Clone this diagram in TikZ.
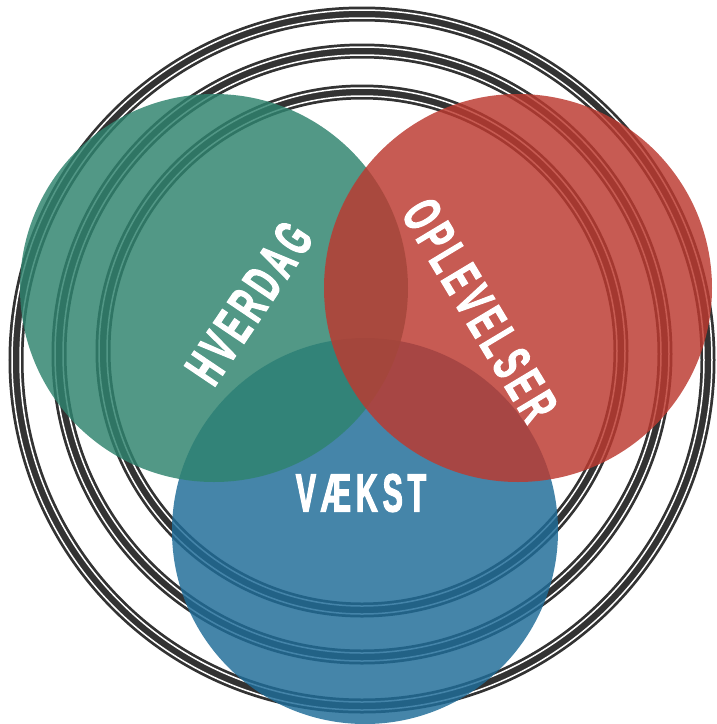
\documentclass[tikz,border=0pt]{standalone}
\usepackage{fontspec}
\newfontfamily\lblfont{Liberation Sans}[FakeStretch=0.56,FakeBold=2,LetterSpace=9]
\definecolor{ringc}{HTML}{333333}
\definecolor{vgreen}{RGB}{47,131,110}
\definecolor{vblue}{RGB}{31,108,152}
\definecolor{vred}{RGB}{188,58,48}
\begin{document}
\begin{tikzpicture}[x=1pt,y=-1pt,
  ringband/.style={draw=ringc,line width=15pt},
  ringgap/.style={draw=white,line width=1.5pt},
  blob/.style={circle,inner sep=0pt,minimum size=#1,fill opacity=0.83,draw=none},
  lbl/.style={text=white,font=\lblfont\bfseries\fontsize{54}{54}\selectfont,inner sep=0pt}]
\useasboundingbox (0,0) rectangle (716,724);
\foreach \cy/\r in {360/346,354/303,351/259} {
  \draw[ringband] (362,\cy) circle[radius=\r];
  \draw[ringgap] (362,\cy) circle[radius=\r-4];
  \draw[ringgap] (362,\cy) circle[radius=\r+4];
}
\node[blob=386pt,fill=vblue] (vaekstc) at (365,531) {};
\node[blob=388pt,fill=vgreen] (hverdagc) at (214,288) {};
\node[blob=388pt,fill=vred] (oplevc) at (518,288) {};
\node[lbl,rotate=56] (hverdag) at (249,303) {HVERDAG};
\node[lbl,rotate=-59] (oplev) at (480,310) {OPLEVELSER};
\node[lbl] (vaekst) at (361,493) {VÆKST};
\end{tikzpicture}
\end{document}
